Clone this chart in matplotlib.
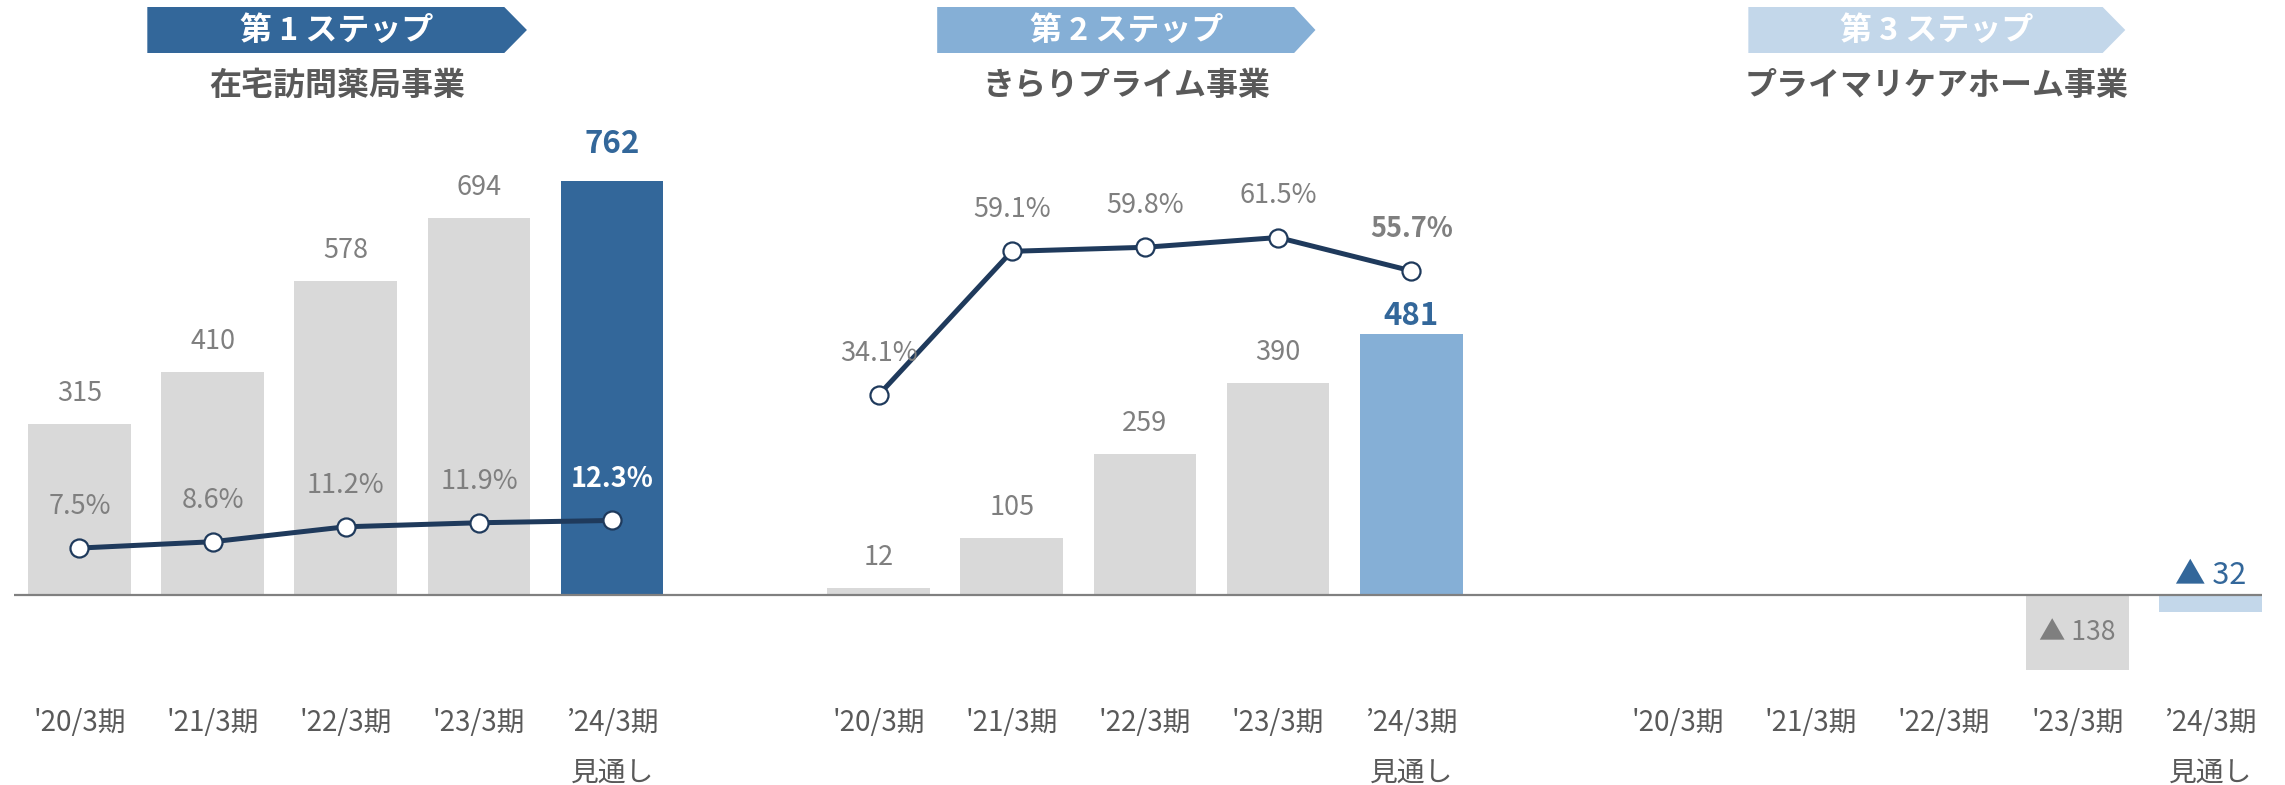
import matplotlib
matplotlib.use("Agg")
import matplotlib.pyplot as plt
from matplotlib.patches import Polygon
import matplotlib.transforms as mtransforms

plt.rcParams['font.family'] = ['Noto Sans CJK JP', 'DejaVu Sans']

# data
periods = ["'20/3期", "'21/3期", "'22/3期", "'23/3期", "’24/3期"]
forecast_note = "見通し"
steps = ["第 1 ステップ", "第 2 ステップ", "第 3 ステップ"]
businesses = ["在宅訪問薬局事業", "きらりプライム事業", "プライマリケアホーム事業"]
home_pharmacy = [315, 410, 578, 694, 762]
kirari_prime = [12, 105, 259, 390, 481]
primary_care = [None, None, None, -138, -32]
home_margin = [7.5, 8.6, 11.2, 11.9, 12.3]
kirari_margin = [34.1, 59.1, 59.8, 61.5, 55.7]

sales = [home_pharmacy, kirari_prime, primary_care]
margins = [home_margin, kirari_margin, None]

GRAY_BAR = "#D9D9D9"
TEXT_GRAY = "#7F7F7F"
DARK_TEXT = "#595959"
NAVY = "#1F3A5C"
LABEL_BLUE = "#33679A"
accent = ["#33679A", "#85AFD6", "#C3D7EA"]
banner_x = [(0.51, 3.19, 3.36), (0.44, 3.12, 3.28), (0.53, 3.19, 3.36)]

fig = plt.figure(figsize=(22.85, 7.85), dpi=100)
ax = fig.add_axes([0, 0, 1, 1])
ax.set_xlim(-0.596, 16.559)
ax.set_ylim(-350, 1096)
ax.axis('off')
ax2 = ax.twinx()
ax2.set_ylim(-33.7, 102.8)
ax2.axis('off')

bar_w = 0.77
xa = mtransforms.blended_transform_factory(ax.transData, ax.transAxes)

for p in range(3):
    off = 6 * p
    xs = [off + i for i in range(len(periods))]
    vals = sales[p]
    for i, v in enumerate(vals):
        if v is None:
            continue
        last = i == len(vals) - 1
        col = accent[p] if last else GRAY_BAR
        ax.bar(xs[i], v, width=bar_w, color=col, zorder=2)
        if v < 0:
            txt = "▲ %d" % abs(v)
            if last:
                ax.annotate(txt, (xs[i], 0), xytext=(0, 14), textcoords='offset points',
                            ha='center', va='center', fontsize=22, color=LABEL_BLUE, zorder=5)
            else:
                ax.text(xs[i], v / 2, txt, ha='center', va='center', fontsize=19,
                        color=TEXT_GRAY, zorder=5)
        elif last:
            dy = 27 if p == 0 else 13
            ax.annotate(str(v), (xs[i], v), xytext=(0, dy), textcoords='offset points',
                        ha='center', va='center', fontsize=22.5, fontweight='bold',
                        color=LABEL_BLUE, zorder=5)
        else:
            ax.annotate(str(v), (xs[i], v), xytext=(0, 22), textcoords='offset points',
                        ha='center', va='center', fontsize=19.5, color=TEXT_GRAY, zorder=5)

    # margin line
    m = margins[p]
    if m is not None:
        ax2.plot(xs, m, color=NAVY, lw=3.6, marker='o', ms=13, mfc='white',
                 mec=NAVY, mew=1.6, zorder=6)
        for i, v in enumerate(m):
            last = i == len(m) - 1
            if last and p == 0:
                c, w = 'white', 'semibold'
            elif last:
                c, w = TEXT_GRAY, 'semibold'
            else:
                c, w = TEXT_GRAY, 'normal'
            ax2.annotate("%.1f%%" % v, (xs[i], v), xytext=(0, 30), textcoords='offset points',
                         ha='center', va='center', fontsize=19.5, color=c, fontweight=w,
                         zorder=7)

    # period labels
    for i, lab in enumerate(periods):
        ax.text(xs[i], 1 - 723 / 785, lab, transform=xa, ha='center', va='center',
                fontsize=20, color=DARK_TEXT)
    ax.text(xs[-1], 1 - 773 / 785, forecast_note, transform=xa, ha='center', va='center',
            fontsize=20, color=DARK_TEXT)

    # step banner
    l, r, tip = banner_x[p]
    top, bot = 1 - 7 / 785, 1 - 53 / 785
    mid = (top + bot) / 2
    poly = Polygon([(off + l, top), (off + r, top), (off + tip, mid), (off + r, bot), (off + l, bot)],
                   closed=True, transform=xa, facecolor=accent[p], edgecolor='none', zorder=3)
    ax.add_patch(poly)
    cx = off + (l + tip) / 2
    ax.text(cx, 1 - 31 / 785, steps[p], transform=xa, ha='center', va='center',
            fontsize=23, fontweight='bold', color='white', zorder=4)
    ax.text(cx, 1 - 86 / 785, businesses[p], transform=xa, ha='center', va='center',
            fontsize=23, fontweight='bold', color=DARK_TEXT, zorder=4)

# baseline across all panels
ax.hlines(0, -0.49, 16 + bar_w / 2, color="#808080", lw=1.6, zorder=3)

fig.savefig("out.png", dpi=100)
